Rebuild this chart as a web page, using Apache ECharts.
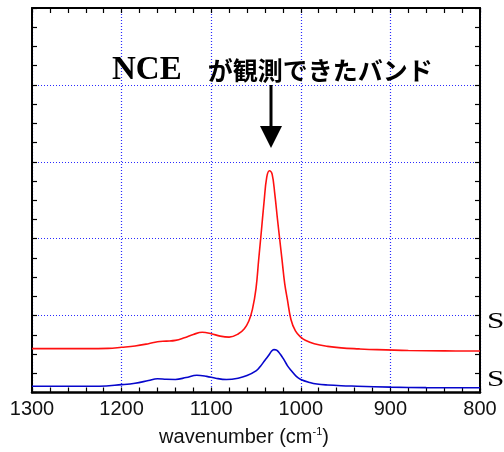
<!DOCTYPE html>
<html>
<head>
<meta charset="utf-8">
<script src="https://cdn.jsdelivr.net/npm/echarts@6/dist/echarts.min.js"></script>
<style>
  html, body { margin:0; padding:0; background:#fff; }
  #chart { width:504px; height:452px; }
</style>
</head>
<body>
<div id="chart"></div>
<script>
// === Datos ===
const redWn  = [1300, 1270, 1240, 1215, 1200, 1185, 1170, 1160, 1150, 1140, 1130, 1120, 1110, 1100, 1090, 1080, 1070, 1063, 1058, 1054, 1050, 1047, 1044, 1041, 1038, 1035, 1032, 1029, 1026, 1023.5, 1021, 1018, 1015, 1011, 1006, 1000, 995, 985, 970, 955, 935, 915, 880, 840, 800];
const redVal = [0.571, 0.571, 0.571, 0.574, 0.588, 0.605, 0.635, 0.660, 0.668, 0.678, 0.712, 0.755, 0.783, 0.765, 0.733, 0.720, 0.760, 0.830, 0.930, 1.080, 1.350, 1.730, 2.100, 2.480, 2.800, 2.883, 2.840, 2.580, 2.250, 1.990, 1.730, 1.420, 1.210, 0.950, 0.800, 0.720, 0.680, 0.635, 0.600, 0.580, 0.567, 0.557, 0.546, 0.541, 0.539];

const blueWn  = [1300, 1260, 1225, 1200, 1185, 1170, 1160, 1150, 1140, 1128, 1116, 1105, 1095, 1083, 1070, 1060, 1050, 1045, 1040, 1036, 1032.5, 1030, 1027, 1023, 1019, 1015, 1011, 1005, 1000, 990, 982, 970, 955, 937, 900, 860, 800];
const blueVal = [0.082, 0.082, 0.082, 0.102, 0.120, 0.155, 0.178, 0.172, 0.170, 0.195, 0.225, 0.210, 0.185, 0.169, 0.185, 0.220, 0.280, 0.342, 0.420, 0.480, 0.540, 0.558, 0.550, 0.500, 0.430, 0.350, 0.290, 0.210, 0.170, 0.130, 0.110, 0.097, 0.088, 0.082, 0.070, 0.063, 0.061];

const xTicks = [800, 900, 1000, 1100, 1200, 1300];
const title = ['NCE', 'が観測できたバンド'];

// === Ejes ===
const frame = { show:true, onZero:false, lineStyle:{ color:'#000', width:2 } };
const tickIn = { show:true, inside:true, length:5, lineStyle:{ color:'#000', width:1.2 } };
const gridLine = { show:true, lineStyle:{ color:'#2a2aff', width:1.2, type:[1,2] } };

const xBase = { type:'value', min:xTicks[0], max:xTicks[xTicks.length-1], interval:100, inverse:true };

const option = {
  animation:false,
  grid:{ left:32, right:24, top:8, bottom:59 },
  xAxis:[
    { ...xBase, position:'bottom',
      axisLine:{ ...frame, lineStyle:{ color:'#000', width:2.5 } },
      axisTick:tickIn, minorTick:{ ...tickIn, splitNumber:5 },
      splitLine:gridLine,
      axisLabel:{ color:'#111', fontSize:20, fontFamily:'Liberation Sans', margin:7, formatter:v=>String(v) },
      name:'{t|wavenumber (cm}{s|-1}{t|)}', nameLocation:'middle', nameGap:34,
      nameTextStyle:{ padding:[0,24,0,0], rich:{
        t:{ fontSize:20, fontFamily:'Liberation Sans', color:'#111' },
        s:{ fontSize:11, fontFamily:'Liberation Sans', color:'#111', padding:[0,0,10,0] }
      } } },
    { ...xBase, position:'top',
      axisLine:frame, axisTick:tickIn, minorTick:{ ...tickIn, splitNumber:5 },
      splitLine:{ show:false }, axisLabel:{ show:false } }
  ],
  yAxis:[
    { type:'value', min:0, max:5, interval:1, position:'left',
      axisLine:frame, axisTick:tickIn, minorTick:{ ...tickIn, splitNumber:4 },
      splitLine:gridLine, axisLabel:{ show:false } },
    { type:'value', min:0, max:5, interval:1, position:'right',
      axisLine:frame, axisTick:tickIn, minorTick:{ ...tickIn, splitNumber:4 },
      splitLine:{ show:false }, axisLabel:{ show:false } }
  ],
  series:[
    { type:'line', data:redWn.map((w,i)=>[w, redVal[i]]), showSymbol:false, smooth:0.4,
      lineStyle:{ color:'#ff1010', width:1.6 }, z:3 },
    { type:'line', data:blueWn.map((w,i)=>[w, blueVal[i]]), showSymbol:false, smooth:0.4,
      lineStyle:{ color:'#0606cc', width:1.6 }, z:3 }
  ],
  graphic:[
    // rótulo + flecha
    { type:'text', left:112, top:54, z:10,
      style:{ text:`{a|${title[0]}}{b|${title[1]}}`, rich:{
        a:{ fontFamily:'Liberation Serif', fontWeight:'bold', fontSize:33, fill:'#000' },
        b:{ fontFamily:'Noto Sans CJK JP', fontWeight:'bold', fontSize:25, fill:'#000', padding:[0,0,0,26] }
      } } },
    { type:'line', z:10, shape:{ x1:271, y1:85, x2:271, y2:130 }, style:{ stroke:'#000', lineWidth:3 } },
    { type:'polygon', z:10, shape:{ points:[[260,126],[282,126],[271,148]] }, style:{ fill:'#000' } },
    // etiquetas cortadas a la derecha
    { type:'text', left:487, top:310, scaleX:1.3, style:{ text:'S', fontFamily:'Liberation Serif', fontSize:24, fill:'#000' } },
    { type:'text', left:487, top:368, scaleX:1.3, style:{ text:'S', fontFamily:'Liberation Serif', fontSize:24, fill:'#000' } }
  ]
};

echarts.init(document.getElementById('chart')).setOption(option);
</script>
</body>
</html>
